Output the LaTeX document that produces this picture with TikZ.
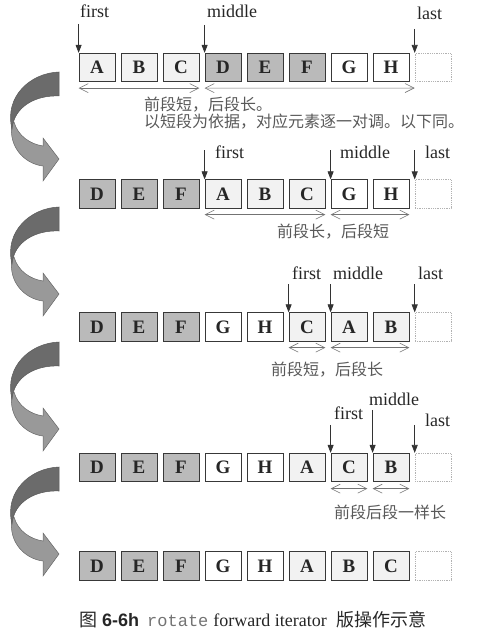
\documentclass[tikz,border=0pt]{standalone}
\usepackage{fontspec}
\setmainfont{Liberation Serif}
\newfontfamily\cjk{Noto Sans CJK SC}
\newfontfamily\hsans{Liberation Sans}
\newfontfamily\hmono{Liberation Mono}
\usetikzlibrary{arrows.meta}
\newcommand\cellrow[3]{\foreach [count=\i from 0] \s/\t in {#3} {\node[\s] (#1c\i) at (97+42*\i, #2) {\t};}}
\newcommand\twistarrow[2]{%
  \begin{scope}[shift={(0,#2)}]
    \path[arrlight] (12,52) .. controls (8,75) and (25,92) .. (43,94) -- (43,109) -- (59,87) -- (43,66) -- (43,74) .. controls (30,72) and (18,64) .. (14,50) -- cycle;
    \path[arrdark] (59,0) -- (59,24) .. controls (35,23) and (14,35) .. (12,57) .. controls (4,25) and (30,1) .. (59,0) -- cycle;
    \coordinate (#1) at (59,87);
  \end{scope}}
\begin{document}
\begin{tikzpicture}[x=1pt,y=-1pt,
  cell/.style={draw=black!78, line width=0.8pt, minimum width=36pt, minimum height=28.5pt, inner sep=0pt, font=\fontsize{19}{19}\selectfont\bfseries, text=black!85},
  lt/.style={cell, fill=black!5},
  md/.style={cell, fill=black!27},
  wh/.style={cell, fill=white},
  em/.style={cell, draw=black!30, densely dotted, line width=0.6pt},
  ptr/.style={draw=black!80, line width=0.7pt, -{Triangle[length=8pt,width=6pt]}},
  dbl/.style={draw=black!55, line width=0.6pt, {Straight Barb[length=9pt,width=9pt]}-{Straight Barb[length=9pt,width=9pt]}},
  lab/.style={anchor=base west, inner sep=0pt, font=\fontsize{18}{18}\selectfont, text=black!85},
  note/.style={anchor=base west, inner sep=0pt, font=\cjk\fontsize{16}{16}\selectfont, text=black!65},
  arrlight/.style={fill=black!40, draw=black!60, line width=0.5pt},
  arrdark/.style={fill=black!58, draw=black!65, line width=0.5pt}
]
\useasboundingbox (0,0) rectangle (488,636);

% rows of cells
\cellrow{r1}{67.5}{lt/A,lt/B,lt/C,md/D,md/E,md/F,wh/G,wh/H,em/{}}
\cellrow{r2}{194}{md/D,md/E,md/F,lt/A,lt/B,lt/C,wh/G,wh/H,em/{}}
\cellrow{r3}{327}{md/D,md/E,md/F,wh/G,wh/H,lt/C,lt/A,lt/B,em/{}}
\cellrow{r4}{467.5}{md/D,md/E,md/F,wh/G,wh/H,lt/A,lt/C,lt/B,em/{}}
\cellrow{r5}{566}{md/D,md/E,md/F,wh/G,wh/H,lt/A,lt/B,lt/C,em/{}}

% twisted arrows
\twistarrow{ta1}{72}
\twistarrow{ta2}{207}
\twistarrow{ta3}{342}
\twistarrow{ta4}{467}

% row 1 pointers
\coordinate (p1f) at ([yshift=29pt]r1c0.north west);
\coordinate (p1m) at ([yshift=28pt]r1c3.north west);
\coordinate (p1l) at ([yshift=24pt]r1c8.north west);
\draw[ptr] (p1f) -- (r1c0.north west);
\draw[ptr] (p1m) -- (r1c3.north west);
\draw[ptr] (p1l) -- (r1c8.north west);
\node[lab] (l1f) at (80,18) {first};
\node[lab] (l1m) at (207,18) {middle};
\node[lab] (l1l) at (417,20) {last};
\draw[dbl] ([yshift=-6pt]r1c0.south west) -- ([yshift=-6pt]r1c2.south east);
\draw[dbl] ([yshift=-6pt]r1c3.south west) -- ([yshift=-6pt]r1c8.south west);
\node[note] (n1a) at (144,110.6) {前段短，后段长。};
\node[note] (n1b) at (144,127.6) {以短段为依据，对应元素逐一对调。以下同。};

% row 2
\coordinate (p2f) at ([yshift=29pt]r2c3.north west);
\coordinate (p2m) at ([yshift=29pt]r2c6.north west);
\coordinate (p2l) at ([yshift=29pt]r2c8.north west);
\draw[ptr] (p2f) -- (r2c3.north west);
\draw[ptr] (p2m) -- (r2c6.north west);
\draw[ptr] (p2l) -- (r2c8.north west);
\node[lab] (l2f) at (215,159) {first};
\node[lab] (l2m) at (340,159) {middle};
\node[lab] (l2l) at (425,159) {last};
\draw[dbl] ([yshift=-6pt]r2c3.south west) -- ([yshift=-6pt]r2c5.south east);
\draw[dbl] ([yshift=-6pt]r2c6.south west) -- ([yshift=-6pt]r2c7.south east);
\node[note] (n2) at (277,237) {前段长，后段短};

% row 3
\coordinate (p3f) at ([yshift=28pt]r3c5.north west);
\coordinate (p3m) at ([yshift=28pt]r3c6.north west);
\coordinate (p3l) at ([yshift=28pt]r3c8.north west);
\draw[ptr] (p3f) -- (r3c5.north west);
\draw[ptr] (p3m) -- (r3c6.north west);
\draw[ptr] (p3l) -- (r3c8.north west);
\node[lab] (l3f) at (292,279) {first};
\node[lab] (l3m) at (333,279) {middle};
\node[lab] (l3l) at (418,279) {last};
\draw[dbl] ([yshift=-6pt]r3c5.south west) -- ([yshift=-6pt]r3c5.south east);
\draw[dbl] ([yshift=-6pt]r3c6.south west) -- ([yshift=-6pt]r3c7.south east);
\node[note] (n3) at (271,375) {前段短，后段长};

% row 4
\coordinate (p4f) at ([yshift=28pt]r4c6.north west);
\coordinate (p4m) at ([yshift=43pt]r4c7.north west);
\coordinate (p4l) at ([yshift=28pt]r4c8.north west);
\draw[ptr] (p4f) -- (r4c6.north west);
\draw[ptr] (p4m) -- (r4c7.north west);
\draw[ptr] (p4l) -- (r4c8.north west);
\node[lab] (l4f) at (334,419) {first};
\node[lab] (l4m) at (369,405) {middle};
\node[lab] (l4l) at (425,426) {last};
\draw[dbl] ([yshift=-6.5pt]r4c6.south west) -- ([yshift=-6.5pt]r4c6.south east);
\draw[dbl] ([yshift=-6.5pt]r4c7.south west) -- ([yshift=-6.5pt]r4c7.south east);
\node[note] (n4) at (334,518.5) {前段后段一样长};

% caption
\node[anchor=base west, inner sep=0pt, text=black!85] (cap) at (79,626)
  {{\cjk\fontsize{18}{18}\selectfont 图}\hspace{5pt}{\hsans\bfseries\fontsize{18}{18}\selectfont 6-6h}\hspace{8pt}{\hmono\fontsize{17}{17}\selectfont\color{black!55}rotate}\hspace{5pt}{\fontsize{18}{18}\selectfont forward iterator}\hspace{10pt}{\cjk\fontsize{18}{18}\selectfont 版操作示意}};
\end{tikzpicture}
\end{document}
